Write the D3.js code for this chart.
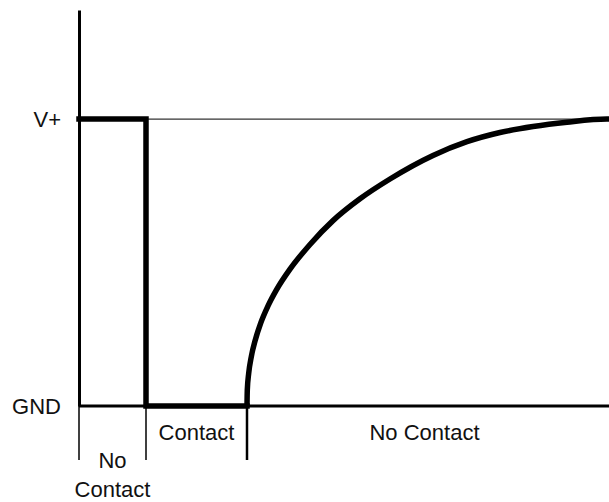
<!DOCTYPE html>
<html>
<head>
<meta charset="utf-8">
<script src="https://cdn.jsdelivr.net/npm/d3@7"></script>
<style>
  html, body { margin: 0; padding: 0; background: #fff; }
  svg { display: block; }
  text { font-family: "Liberation Sans", Arial, sans-serif; fill: #111; }
</style>
</head>
<body>
<svg id="chart" width="609" height="502"></svg>
<script>
// ---- data ----
const levelValues = [0, 1];
const levelLabels = ["GND", "V+"];

// phase boundaries along time axis (arbitrary time units)
const phaseBounds = [0, 67, 168, 523];
const phaseLabels = [["No", "Contact"], ["Contact"], ["No Contact"]];

// step part of the signal
const stepT = [0, 67, 67, 168];
const stepV = [1, 1, 0, 0];

// recovery (charging) curve after contact ends
const riseT = [168, 168.3, 169.7, 172.3, 176.3, 181.7, 189, 197.3, 211, 231, 254, 281, 311, 354, 388, 421, 454, 488, 528, 530];
const riseV = [0, 0.056, 0.114, 0.172, 0.230, 0.289, 0.349, 0.404, 0.477, 0.563, 0.646, 0.722, 0.791, 0.873, 0.921, 0.953, 0.974, 0.989, 1.0, 1.0];

// ---- drawing ----
const svg = d3.select("#chart");
const x = d3.scaleLinear().domain([0, 530]).range([79, 609]);
const y = d3.scaleLinear().domain([0, 1.38]).range([406, 10]);

// y axis
const yAxis = d3.axisLeft(y)
  .tickValues(levelValues)
  .tickFormat((d, i) => levelLabels[i])
  .tickSize(0)
  .tickPadding(18);
const ag = svg.append("g").attr("transform", `translate(${x(0)},0)`).call(yAxis);
ag.select(".domain").attr("stroke", "#000").attr("stroke-width", 3);
ag.selectAll("text")
  .style("font-family", '"Liberation Sans", Arial, sans-serif')
  .style("font-size", "22px")
  .attr("fill", "#111");

// V+ reference line
svg.append("line")
  .attr("x1", x(0)).attr("x2", x(530))
  .attr("y1", y(1)).attr("y2", y(1))
  .attr("stroke", "#333").attr("stroke-width", 1.2);

// GND baseline
svg.append("line")
  .attr("x1", x(0)).attr("x2", x(530))
  .attr("y1", y(0)).attr("y2", y(0))
  .attr("stroke", "#000").attr("stroke-width", 3);

// phase dividers below the baseline
svg.selectAll("line.div")
  .data(phaseBounds.slice(0, 3))
  .enter().append("line")
  .attr("class", "div")
  .attr("x1", d => x(d)).attr("x2", d => x(d))
  .attr("y1", y(0)).attr("y2", y(0) + 54)
  .attr("stroke", "#000")
  .attr("stroke-width", (d, i) => i === 2 ? 2.5 : 1.5);

// step signal
const stepLine = d3.line().x((d, i) => x(stepT[i])).y((d, i) => y(stepV[i]));
svg.append("path")
  .attr("d", stepLine(stepT))
  .attr("fill", "none").attr("stroke", "#000")
  .attr("stroke-width", 5.5).attr("stroke-linejoin", "miter").attr("stroke-linecap", "square");

// rise curve
const riseLine = d3.line().curve(d3.curveMonotoneX)
  .x((d, i) => x(riseT[i])).y((d, i) => y(riseV[i]));
svg.append("path")
  .attr("d", riseLine(riseT))
  .attr("fill", "none").attr("stroke", "#000")
  .attr("stroke-width", 5.5).attr("stroke-linecap", "butt");

// phase labels
phaseLabels.forEach((lines, i) => {
  const cx = (x(phaseBounds[i]) + x(phaseBounds[i + 1])) / 2;
  const t = svg.append("text")
    .attr("text-anchor", "middle")
    .style("font-size", "22px");
  if (lines.length === 1) {
    t.append("tspan").attr("x", cx).attr("y", y(0) + 34).text(lines[0]);
  } else {
    t.append("tspan").attr("x", cx).attr("y", y(0) + 62).text(lines[0]);
    t.append("tspan").attr("x", cx).attr("y", y(0) + 91).text(lines[1]);
  }
});
</script>
</body>
</html>
